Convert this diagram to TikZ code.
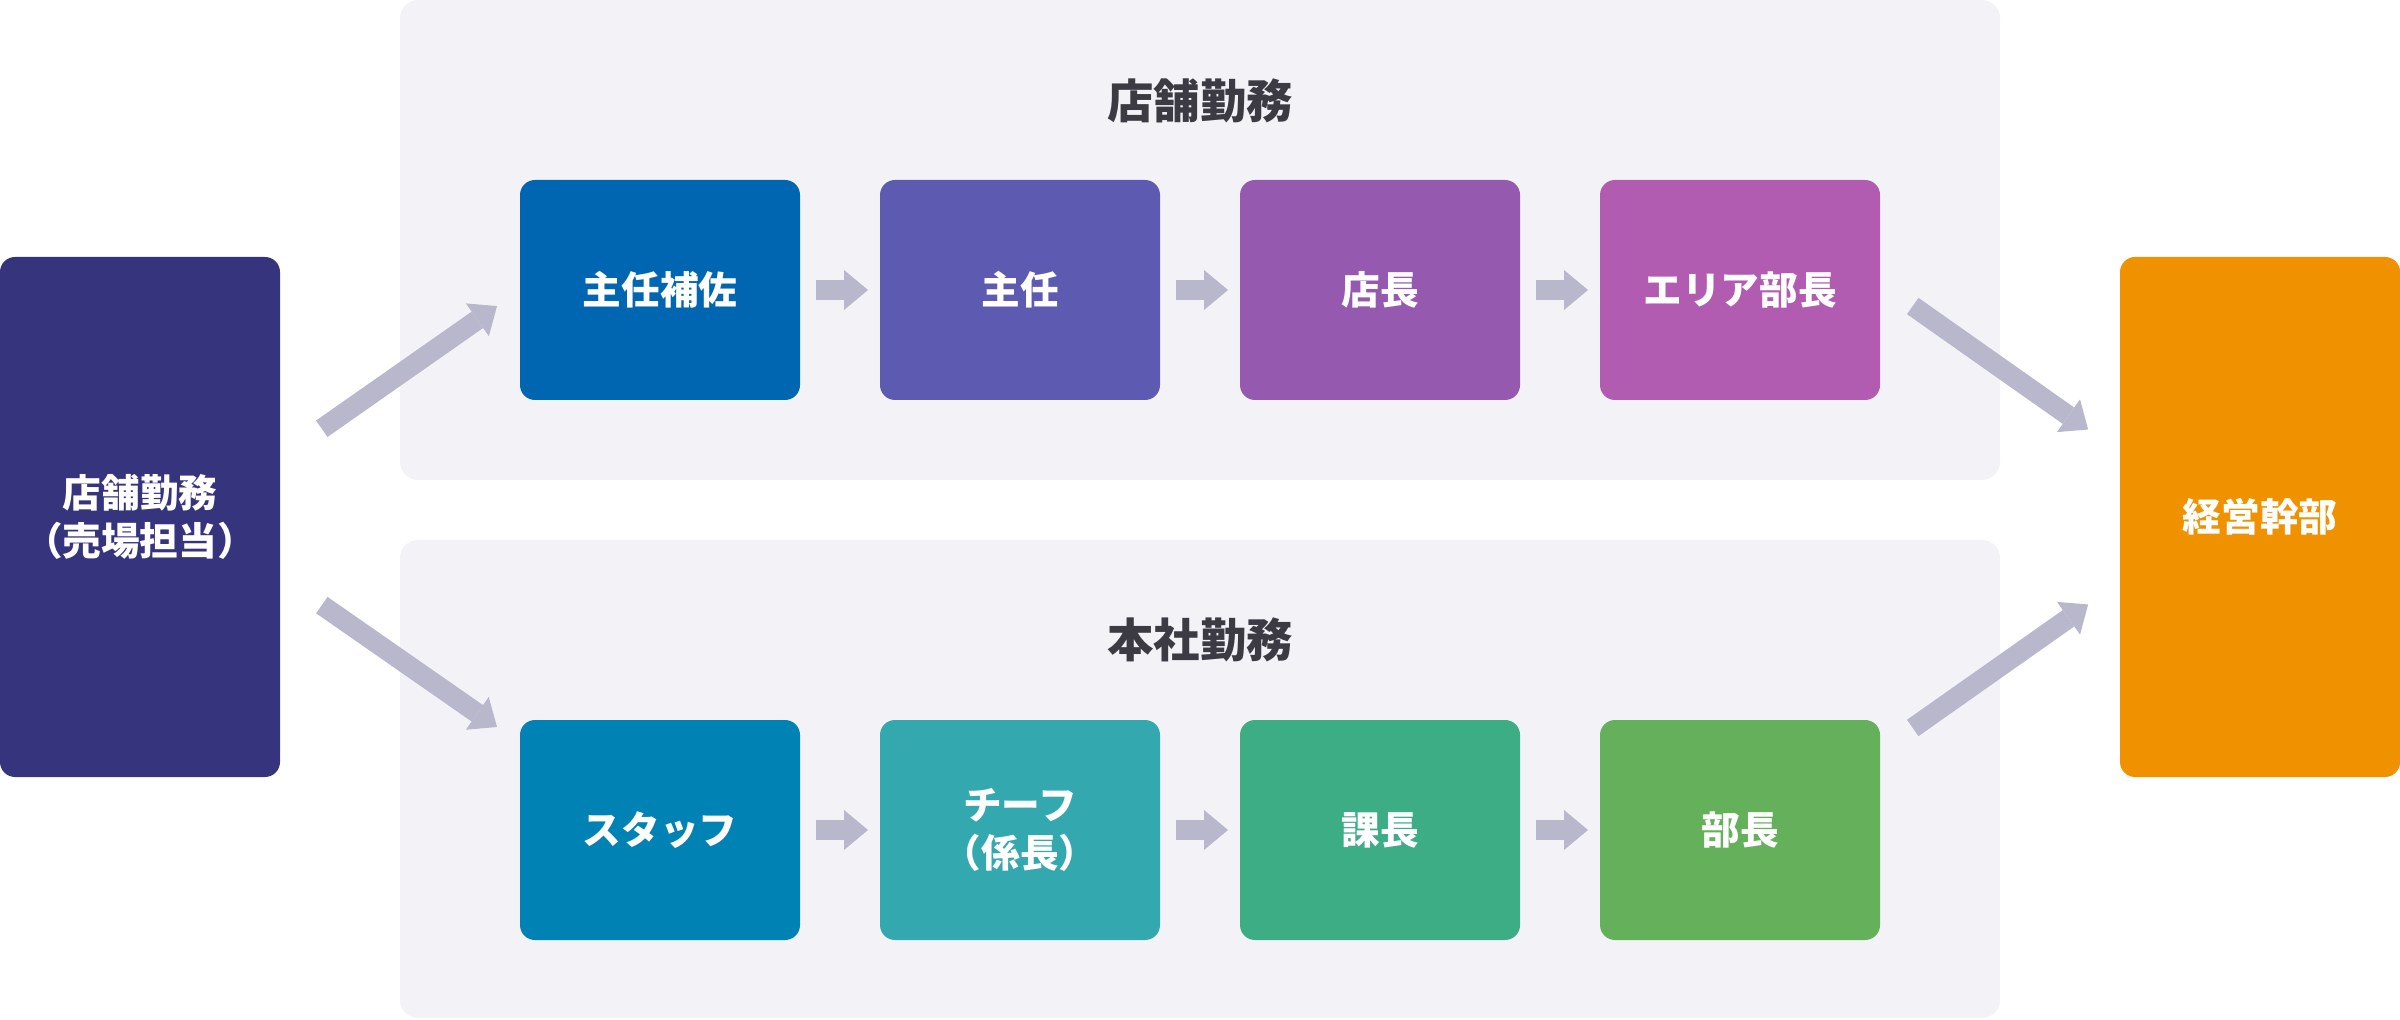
\documentclass[tikz,border=0pt]{standalone}
\usepackage{fontspec}
\setmainfont{Noto Sans CJK JP}
\usetikzlibrary{arrows.meta}
\usetikzlibrary{positioning}
\definecolor{panelgray}{HTML}{F3F3F7}
\definecolor{arrowgray}{HTML}{B8B7CC}
\definecolor{titlegray}{HTML}{3C3B43}
\definecolor{entrycol}{HTML}{37347E}
\definecolor{topone}{HTML}{0066B1}
\definecolor{toptwo}{HTML}{5C5BB1}
\definecolor{topthree}{HTML}{9559B0}
\definecolor{topfour}{HTML}{B15CB1}
\definecolor{botone}{HTML}{0083B4}
\definecolor{bottwo}{HTML}{33A9AF}
\definecolor{botthree}{HTML}{3CAD84}
\definecolor{botfour}{HTML}{65B15B}
\definecolor{execcol}{HTML}{F09200}
\tikzset{post/.style = {rounded corners = 0.15cm, minimum width = 2.8cm,
                        minimum height = 2.2cm, inner sep = 0, outer sep = 0,
                        text = white, align = center,
                        font = \fontsize{11}{13.6}\selectfont\bfseries}}
\tikzset{arr/.style = {draw = arrowgray, line width = 0.2cm,
                       -{Triangle[width = 0.4cm, length = 0.24cm, line width = 0pt]}}}
\tikzset{heading/.style = {text = titlegray, font = \fontsize{13.2}{16}\selectfont\bfseries}}

\begin{document}
\begin{tikzpicture}
    \useasboundingbox (0, 0) rectangle (24, -10.2);
    \fill [panelgray, rounded corners = 0.18cm] (4, 0) rectangle (20, -4.8);
    \fill [panelgray, rounded corners = 0.18cm] (4, -5.4) rectangle (20, -10.18);
    \node [heading] (storetitle) at (12, -1.01) {店舗勤務};
    \node [heading] (hqtitle) at (12, -6.4) {本社勤務};

    \node [post, fill = entrycol, minimum height = 5.2cm] (entry) at (1.4, -5.17)
      {店舗勤務\\（売場担当）};
    \node [post, fill = execcol, minimum height = 5.2cm] (exec) at (22.6, -5.17) {経営幹部};

    \node [post, fill = topone] (b1) at (6.6, -2.9) {主任補佐};
    \node [post, fill = toptwo, right = 0.8cm of b1] (b2) {主任};
    \node [post, fill = topthree, right = 0.8cm of b2] (b3) {店長};
    \node [post, fill = topfour, right = 0.8cm of b3] (b4) {エリア部長};

    \node [post, fill = botone] (c1) at (6.6, -8.3) {スタッフ};
    \node [post, fill = bottwo, right = 0.8cm of c1] (c2) {チーフ\\（係長）};
    \node [post, fill = botthree, right = 0.8cm of c2] (c3) {課長};
    \node [post, fill = botfour, right = 0.8cm of c3] (c4) {部長};

    \foreach \a/\b in {b1/b2, b2/b3, b3/b4, c1/c2, c2/c3, c3/c4} {
      \draw [arr, shorten <= 0.16cm, shorten >= 0.12cm] (\a.east) -- (\b.west);
    }
    \draw [arr, shorten <= 0.51cm, shorten >= 0.28cm] ([yshift = 0.59cm]entry.east) -- (b1.west);
    \draw [arr, shorten <= 0.51cm, shorten >= 0.28cm] ([yshift = -0.59cm]entry.east) -- ([yshift = 0.87cm]c1.west);
    \draw [arr, shorten <= 0.40cm, shorten >= 0.39cm] ([yshift = 0.07cm]b4.east) -- ([yshift = 0.65cm]exec.west);
    \draw [arr, shorten <= 0.40cm, shorten >= 0.39cm] ([yshift = 0.79cm]c4.east) -- ([yshift = -0.65cm]exec.west);
  \end{tikzpicture}
\end{document}
